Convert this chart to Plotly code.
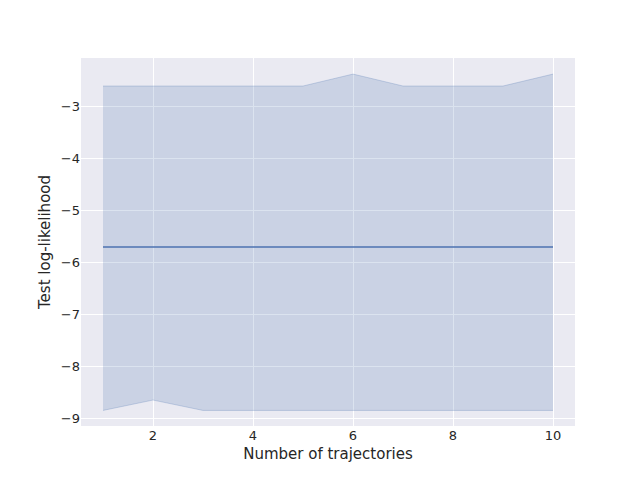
import plotly.graph_objects as go

n_traj = [1, 2, 3, 4, 5, 6, 7, 8, 9, 10]
mean_ll = [-5.7] * 10
upper_ll = [-2.6, -2.6, -2.6, -2.6, -2.6, -2.37, -2.6, -2.6, -2.6, -2.37]
lower_ll = [-8.85, -8.65, -8.85, -8.85, -8.85, -8.85, -8.85, -8.85, -8.85, -8.85]

blue = "#4C72B0"

fig = go.Figure()
fig.add_trace(go.Scatter(x=n_traj, y=upper_ll, mode="lines",
                         line=dict(color="rgba(76,114,176,0.25)", width=1),
                         showlegend=False, hoverinfo="skip"))
fig.add_trace(go.Scatter(x=n_traj, y=lower_ll, mode="lines", fill="tonexty",
                         fillcolor="rgba(76,114,176,0.2)",
                         line=dict(color="rgba(76,114,176,0.25)", width=1),
                         showlegend=False, hoverinfo="skip"))
fig.add_trace(go.Scatter(x=n_traj, y=mean_ll, mode="lines",
                         line=dict(color=blue, width=1.5), showlegend=False))

fig.update_layout(
    width=640, height=480,
    margin=dict(l=73, r=73, t=50, b=62),
    paper_bgcolor="white", plot_bgcolor="#EAEAF2",
    font=dict(family="DejaVu Sans", size=13, color="#262626"),
    xaxis=dict(title=dict(text="Number of trajectories", font=dict(size=15), standoff=6),
               range=[0.56, 10.44], tickvals=[2, 4, 6, 8, 10],
               showgrid=True, gridcolor="white", gridwidth=1.2,
               zeroline=False, ticks="", showline=False),
    yaxis=dict(title=dict(text="Test log-likelihood", font=dict(size=15), standoff=6),
               range=[-9.15, -2.06], tickvals=[-9, -8, -7, -6, -5, -4, -3],
               ticktext=["\u22129", "\u22128", "\u22127", "\u22126", "\u22125", "\u22124", "\u22123"],
               showgrid=True, gridcolor="white", gridwidth=1.2,
               zeroline=False, ticks="", showline=False),
)

fig.write_html("out.html")
